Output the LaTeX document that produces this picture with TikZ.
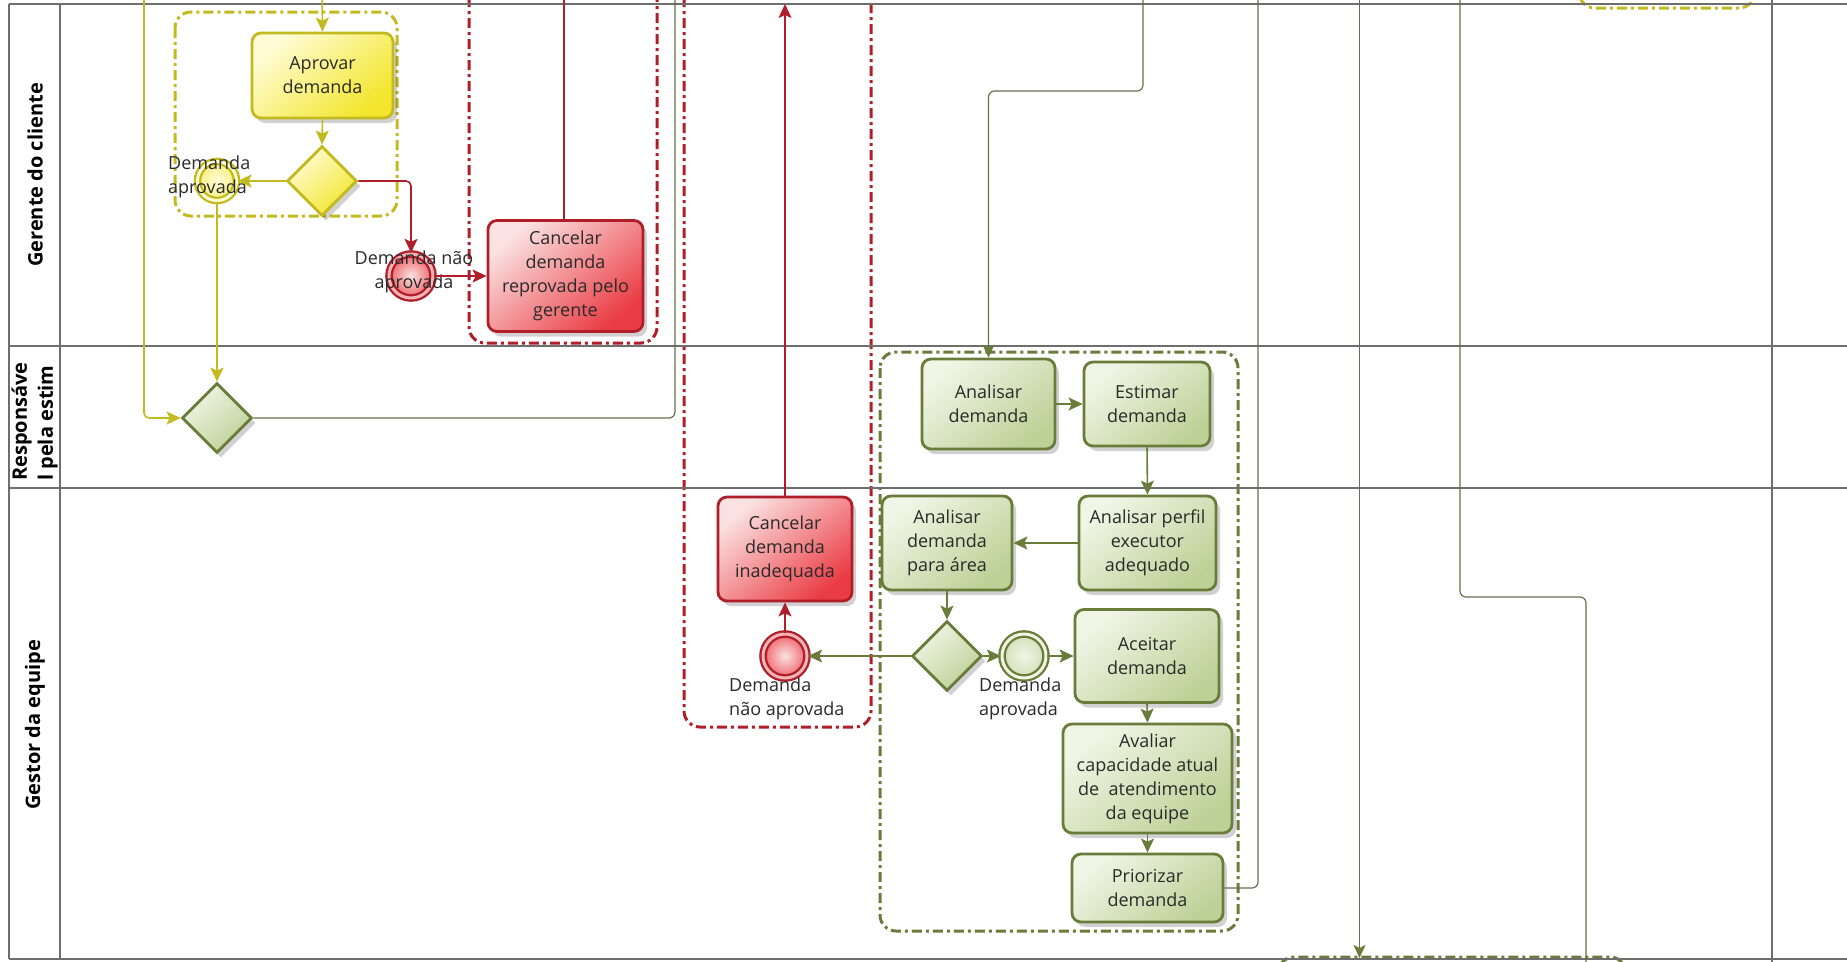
\documentclass[tikz,border=0pt]{standalone}
\usepackage{fontspec}
\setmainfont{Open Sans}
\usetikzlibrary{arrows.meta,shapes.geometric,shadows}

\definecolor{lanegray}{HTML}{6E6E6E}
\definecolor{flowgray}{HTML}{66704E}
\definecolor{txt}{HTML}{2A2A2A}
\definecolor{grnline}{HTML}{6A7C3A}
\definecolor{grnlight}{HTML}{F1F5E6}
\definecolor{grndark}{HTML}{BDD197}
\definecolor{ylwline}{HTML}{C2BA1E}
\definecolor{ylwlight}{HTML}{FFFCD6}
\definecolor{ylwdark}{HTML}{F3E62C}
\definecolor{redline}{HTML}{B01E2A}
\definecolor{redlight}{HTML}{FBE2E2}
\definecolor{reddark}{HTML}{EA3C44}
\definecolor{redring}{HTML}{F6B4B4}

\newcommand\tkfont{\fontsize{18}{24}\selectfont}
\newcommand\lanefont{\fontsize{20}{26}\selectfont\bfseries}

\tikzset{
  task/.style={rectangle, rounded corners=9pt, line width=2.8pt, align=center,
    inner sep=2pt, font=\tkfont, text=txt,
    drop shadow={shadow xshift=4pt, shadow yshift=-5pt, opacity=0.18, fill=black}},
  gtask/.style={task, draw=grnline, top color=grnlight, bottom color=grndark, shading angle=40},
  ytask/.style={task, draw=ylwline, top color=ylwlight, bottom color=ylwdark, shading angle=40},
  rtask/.style={task, draw=redline, top color=redlight, bottom color=reddark, shading angle=40},
  gate/.style={diamond, minimum width=70, minimum height=70, inner sep=0, line width=2.8pt,
    drop shadow={shadow xshift=4pt, shadow yshift=-5pt, opacity=0.18, fill=black}},
  ggate/.style={gate, draw=grnline, top color=grnlight, bottom color=grndark, shading angle=40},
  ygate/.style={gate, draw=ylwline, top color=ylwlight, bottom color=ylwdark, shading angle=40},
  evt/.style={circle, minimum size=44, inner sep=0, line width=2.3pt, double distance=3pt},
  gevt/.style={evt, draw=grnline, double=grnlight, inner color=grnlight, outer color=grndark!70},
  yevt/.style={evt, minimum size=39, draw=ylwline, double=ylwlight, inner color=ylwlight, outer color=ylwdark!60},
  revt/.style={evt, draw=redline, double=redring, inner color=redlight, outer color=reddark!80},
  evlabel/.style={font=\tkfont, text=txt, inner sep=0},
  lanelabel/.style={font=\lanefont, text=black, inner sep=0, rotate=90},
  lane/.style={draw=lanegray, line width=1.5pt},
  grp/.style={rounded corners=16pt, line width=3pt,
    dash pattern=on 10pt off 4pt on 3pt off 4pt},
  tip/.style={-{Stealth[length=14pt, width=13pt, inset=3pt]}},
  gtip/.style={-{Stealth[length=13pt, width=12pt, inset=3pt, color=grnline]}},
  gflow/.style={draw=grnline, line width=1.6pt, rounded corners=5pt},
  yflow/.style={draw=ylwline, line width=1.6pt, rounded corners=5pt},
  rflow/.style={draw=redline, line width=1.6pt, rounded corners=5pt},
  pflow/.style={draw=flowgray, line width=1.2pt, rounded corners=6pt},
}

\begin{document}
\begin{tikzpicture}[x=1pt, y=-1pt]
\useasboundingbox (0,0) rectangle (1847,961);
\fill[white] (0,0) rectangle (1847,961);
\begin{scope}
\clip (0,0) rectangle (1847,961);

% ---- dash-dot groups ----
\draw[grp, draw=ylwline] (175,12) rectangle (397,216);
\draw[grp, draw=redline] (469,-40) rectangle (657,343);
\draw[grp, draw=redline] (684,-40) rectangle (871,727);
\draw[grp, draw=grnline] (880,352) rectangle (1238,931);
\draw[grp, draw=ylwline] (1579,-40) rectangle (1755,8);
\draw[grp, draw=grnline] (1278,957) rectangle (1626,1010);

% ---- pool and lanes ----
\draw[lane] (9,4) -- (1847,4);
\draw[lane] (9,346) -- (1847,346);
\draw[lane] (9,488) -- (1847,488);
\draw[lane] (9,959) -- (1847,959);
\draw[lane] (9,4) -- (9,959);
\draw[lane] (60,4) -- (60,959);

\node[lanelabel] (lgerente) at (35,175) {Gerente do cliente};
\node[lanelabel, anchor=west, align=left] (lresp) at (34.5,481) {Responsáve\\l pela estim};
\node[lanelabel] (lgestor) at (35,725) {Gestor da equipe};

% ---- Gerente do cliente ----
\node[ytask, minimum width=141, minimum height=85] (aprovar) at (322.5,75.5) {Aprovar\\demanda};
\node[ygate] (gw1) at (322,181) {};
\node[yevt] (evY) at (217,181) {};
\node[revt] (evR1) at (411,276) {};
\node[rtask, minimum width=155, minimum height=111] (cancel1) at (565.5,276) {Cancelar\\demanda\\reprovada pelo\\gerente};

\node[evlabel, anchor=west, align=left] (labY) at (168,177) {Demanda\\aprovada};
\node[evlabel, align=center] (labR1) at (414,272) {Demanda não\\aprovada};

% ---- Responsavel pela estimativa ----
\node[ggate] (gw2) at (217,418) {};
\node[gtask, minimum width=133, minimum height=90] (a1) at (988.5,404) {Analisar\\demanda};
\node[gtask, minimum width=126, minimum height=84] (a2) at (1147,404) {Estimar\\demanda};

% ---- Gestor da equipe ----
\node[gtask, minimum width=137, minimum height=94] (a3) at (1147.5,543) {Analisar perfil\\executor\\adequado};
\node[gtask, minimum width=130, minimum height=94] (a4) at (947,543) {Analisar\\demanda\\para área};
\node[ggate] (gw3) at (947,656) {};
\node[revt] (evR2) at (785,656) {};
\node[gevt] (evG) at (1024,656) {};
\node[rtask, minimum width=134, minimum height=104] (cancel2) at (785,549) {Cancelar\\demanda\\inadequada};
\node[gtask, minimum width=144, minimum height=93] (a5) at (1147,656) {Aceitar\\demanda};
\node[gtask, minimum width=169, minimum height=109] (a6) at (1147.5,778.5) {Avaliar\\capacidade atual\\de \ atendimento\\da equipe};
\node[gtask, minimum width=151, minimum height=68] (a7) at (1147.5,888) {Priorizar\\demanda};

\node[evlabel, anchor=west, align=left] (labR2) at (729,698.5) {Demanda\\não aprovada};
\node[evlabel, anchor=west, align=left] (labG) at (979,698.5) {Demanda\\aprovada};

% ---- free ends of flows leaving the sheet ----
\coordinate (inY1) at (322,-10);
\coordinate (inY2) at (144,-10);
\coordinate (outR1) at (564,-10);
\coordinate (outR2) at (785,4);
\coordinate (outG1) at (675,-10);
\coordinate (inG2) at (1143,-10);
\coordinate (outG3) at (1258,-10);
\coordinate (topL1) at (1359.5,-10);
\coordinate (botL1) at (1359.5,958);
\coordinate (topL2) at (1460,-10);
\coordinate (botL2) at (1586,975);
\coordinate (topL3) at (1772,-10);
\coordinate (botL3) at (1772,975);

% ---- yellow flows ----
\draw[yflow, tip] (inY1) -- (aprovar.north);
\draw[yflow, tip] (aprovar.south) -- (gw1.north);
\draw[yflow, tip] (gw1.west) -- (evY.east);
\draw[yflow, tip] (evY.south) -- (gw2.north);
\draw[yflow, tip] (inY2) |- (gw2.west);

% ---- red flows ----
\draw[rflow, tip] (gw1.east) -| (evR1.north);
\draw[rflow, tip] (evR1.east) -- (cancel1.west);
\draw[rflow] (cancel1.north -| outR1) -- (outR1);
\draw[rflow, tip] (evR2.north) -- (cancel2.south);
\draw[rflow, tip] (cancel2.north) -- (outR2);

% ---- green flows ----
\draw[pflow] (gw2.east) -| (outG1);
\draw[pflow, gtip] (inG2) -- ++(0,101) -| (a1.north);
\draw[gflow, tip] (a1.east) -- (a2.west);
\draw[gflow, tip] (a2.south) -- (a3.north);
\draw[gflow, tip] (a3.west) -- (a4.east);
\draw[gflow, tip] (a4.south) -- (gw3.north);
\draw[gflow, tip] (gw3.west) -- (evR2.east);
\draw[gflow, tip] (gw3.east) -- (evG.west);
\draw[gflow, tip] (evG.east) -- (a5.west);
\draw[gflow, tip] (a5.south) -- (a6.north);
\draw[gflow, tip] (a6.south) -- (a7.north);
\draw[pflow] (a7.east) -| (outG3);

% ---- flows crossing the right part ----
\draw[pflow, gtip] (topL1) -- (botL1);
\draw[pflow] (topL2) -- ++(0,607) -| (botL2);
\draw[draw=lanegray, line width=1.4pt] (topL3) -- (botL3);

\end{scope}
\end{tikzpicture}
\end{document}
